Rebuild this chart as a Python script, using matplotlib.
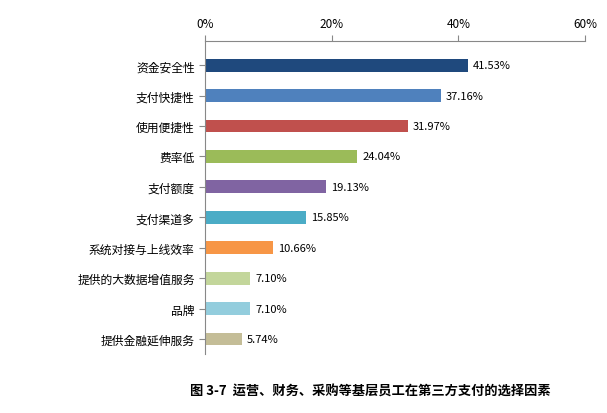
import matplotlib.pyplot as plt
import matplotlib as mpl

mpl.rcParams['font.family'] = 'sans-serif'
mpl.rcParams['font.sans-serif'] = ['Noto Sans CJK JP', 'Noto Sans CJK SC', 'Noto Sans CJK TC',
                                   'Noto Sans CJK KR', 'DejaVu Sans']

categories = ['资金安全性', '支付快捷性', '使用便捷性', '费率低', '支付额度', '支付渠道多',
              '系统对接与上线效率', '提供的大数据增值服务', '品牌', '提供金融延伸服务']
values = [41.53, 37.16, 31.97, 24.04, 19.13, 15.85, 10.66, 7.10, 7.10, 5.74]
colors = ['#1F497D', '#4F81BD', '#C0504D', '#9BBB59', '#8064A2', '#4BACC6',
          '#F79646', '#C3D69B', '#93CDDD', '#C4BD97']
ticks = [0, 20, 40, 60]

fig = plt.figure(figsize=(6.07, 4.14), dpi=100)
ax = fig.add_axes([0.338, 0.142, 0.626, 0.757])
y = list(range(len(categories)))
ax.barh(y, values, height=0.42, color=colors)
for yy, v in zip(y, values):
    ax.text(v + 0.8, yy, f'{v:.2f}%', va='center', ha='left', fontsize=8)
ax.set_xlim(0, 60)
ax.set_ylim(len(categories) - 0.5, -0.8)
ax.set_yticks(y)
ax.set_yticklabels(categories, fontsize=8.5)
ax.set_xticks(ticks)
ax.set_xticklabels([f'{t}%' for t in ticks], fontsize=8.5)
ax.xaxis.tick_top()
ax.tick_params(axis='x', length=4, color='#888888', pad=4)
ax.tick_params(axis='y', length=4, color='#888888')
for s in ['right', 'bottom']:
    ax.spines[s].set_visible(False)
for s in ['top', 'left']:
    ax.spines[s].set_color('#888888')

fig.text(0.61, 0.055, '图 3-7  运营、财务、采购等基层员工在第三方支付的选择因素', ha='center',
         va='center', fontsize=9.5, fontweight='bold')
fig.savefig('out.png', dpi=100)
